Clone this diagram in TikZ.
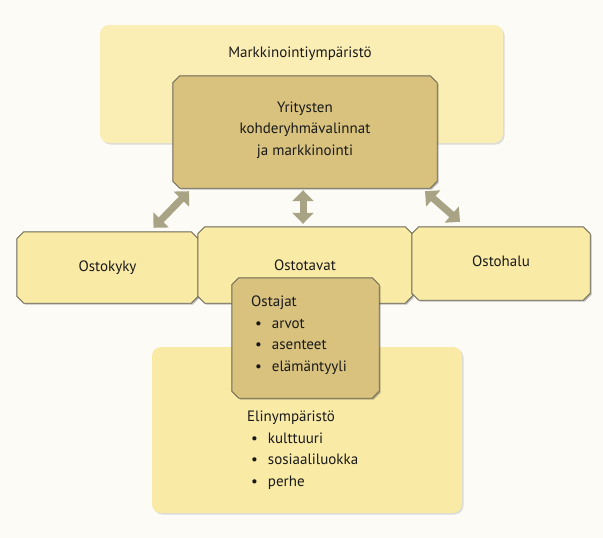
\documentclass[tikz,border=0pt]{standalone}
\usepackage{fontspec}
\setmainfont{PT Sans}
\usetikzlibrary{positioning,arrows.meta,shadows}

\definecolor{paper}{HTML}{FCFBF6}
\definecolor{lightbox}{HTML}{F9EAA6}
\definecolor{topbox}{HTML}{FBEEB4}
\definecolor{darkbox}{HTML}{D8C27E}
\definecolor{boxline}{HTML}{6C6753}
\definecolor{arrowcol}{HTML}{A9A385}

% chamfered outline round a named frame node
\tikzset{cutpath/.style={insert path={
    ([xshift=7pt]#1.north west) -- ([xshift=-7pt]#1.north east) --
    ([yshift=-7pt]#1.north east) -- ([yshift=7pt]#1.south east) --
    ([xshift=-7pt]#1.south east) -- ([xshift=7pt]#1.south west) --
    ([yshift=7pt]#1.south west) -- ([yshift=-7pt]#1.north west) -- cycle}}}
\newcommand{\chambox}[2]{%
  \fill[black,opacity=0.25,transform canvas={xshift=1.5pt,yshift=-1.5pt}] [cutpath=#1];
  \filldraw[fill=#2,draw=boxline,line width=0.9pt] [cutpath=#1];}

\begin{document}
\begin{tikzpicture}[
    x=1pt, y=-1pt,
    font=\fontsize{15}{21.5}\selectfont,
    text=black!90,
    frame/.style={rectangle,inner sep=0pt},
    softbox/.style={rectangle,rounded corners=9pt,inner sep=0pt,
        drop shadow={shadow xshift=1.5pt,shadow yshift=-1.5pt,opacity=0.25,fill=gray}},
    dblarrow/.style={draw=arrowcol,line width=7pt,
        {Triangle[width=21pt,length=11pt]}-{Triangle[width=21pt,length=11pt]}}
]

\useasboundingbox[fill=paper] (0,0) rectangle (603,538);

% === Market environment ===
\node[softbox,fill=topbox,minimum width=403pt,minimum height=118pt] (env) at (301.5,84) {};
\node (envtext) at (300,54) {Markkinointiympäristö};

\node[frame,minimum width=264pt,minimum height=112pt] (firm) at (305,132) {};
\chambox{firm}{darkbox}
\node[align=center] (firmtext) at ([yshift=2pt]firm.center) {Yritysten\\kohderyhmävalinnat\\ja markkinointi};

% === Living environment (behind the buyers) ===
\node[softbox,fill=lightbox,minimum width=310pt,minimum height=166pt] (life) at (307,430) {};
\node[anchor=north west,align=left,inner sep=0pt] (lifetext) at (247,411)
    {Elinympäristö\\
     \hspace{4pt}\textbullet\hspace{10pt}kulttuuri\\
     \hspace{4pt}\textbullet\hspace{10pt}sosiaaliluokka\\
     \hspace{4pt}\textbullet\hspace{10pt}perhe};

% === Buying ===
\node[frame,minimum width=181pt,minimum height=71pt] (ability) at (107.5,267.5) {};
\node[frame,minimum width=214pt,minimum height=76pt] (habits) at (305,265) {};
\node[frame,minimum width=178pt,minimum height=73pt] (desire) at (501,263.5) {};
\chambox{ability}{lightbox}
\chambox{habits}{lightbox}
\chambox{desire}{lightbox}
\node (abilitytext) at (ability.center) {Ostokyky};
\node (habitstext) at (habits.center) {Ostotavat};
\node (desiretext) at ([yshift=2pt]desire.center) {Ostohalu};

% === Buyers ===
\node[frame,minimum width=147pt,minimum height=120pt] (buyers) at (305.5,338) {};
\chambox{buyers}{darkbox}
\node[anchor=north west,align=left,inner sep=0pt] (buyerstext) at (251,296)
    {Ostajat\\
     \hspace{4pt}\textbullet\hspace{10pt}arvot\\
     \hspace{4pt}\textbullet\hspace{10pt}asenteet\\
     \hspace{4pt}\textbullet\hspace{10pt}elämäntyyli};

% === Arrows ===
\draw[dblarrow] ([xshift=46pt,yshift=4pt]ability.north) -- ([xshift=-116pt,yshift=-3pt]firm.south);
\draw[dblarrow] ([xshift=-2pt,yshift=3pt]habits.north) -- ([xshift=-2pt,yshift=-2pt]firm.south);
\draw[dblarrow] ([xshift=-41pt,yshift=5pt]desire.north) -- ([xshift=120pt,yshift=-3pt]firm.south);

\end{tikzpicture}
\end{document}
